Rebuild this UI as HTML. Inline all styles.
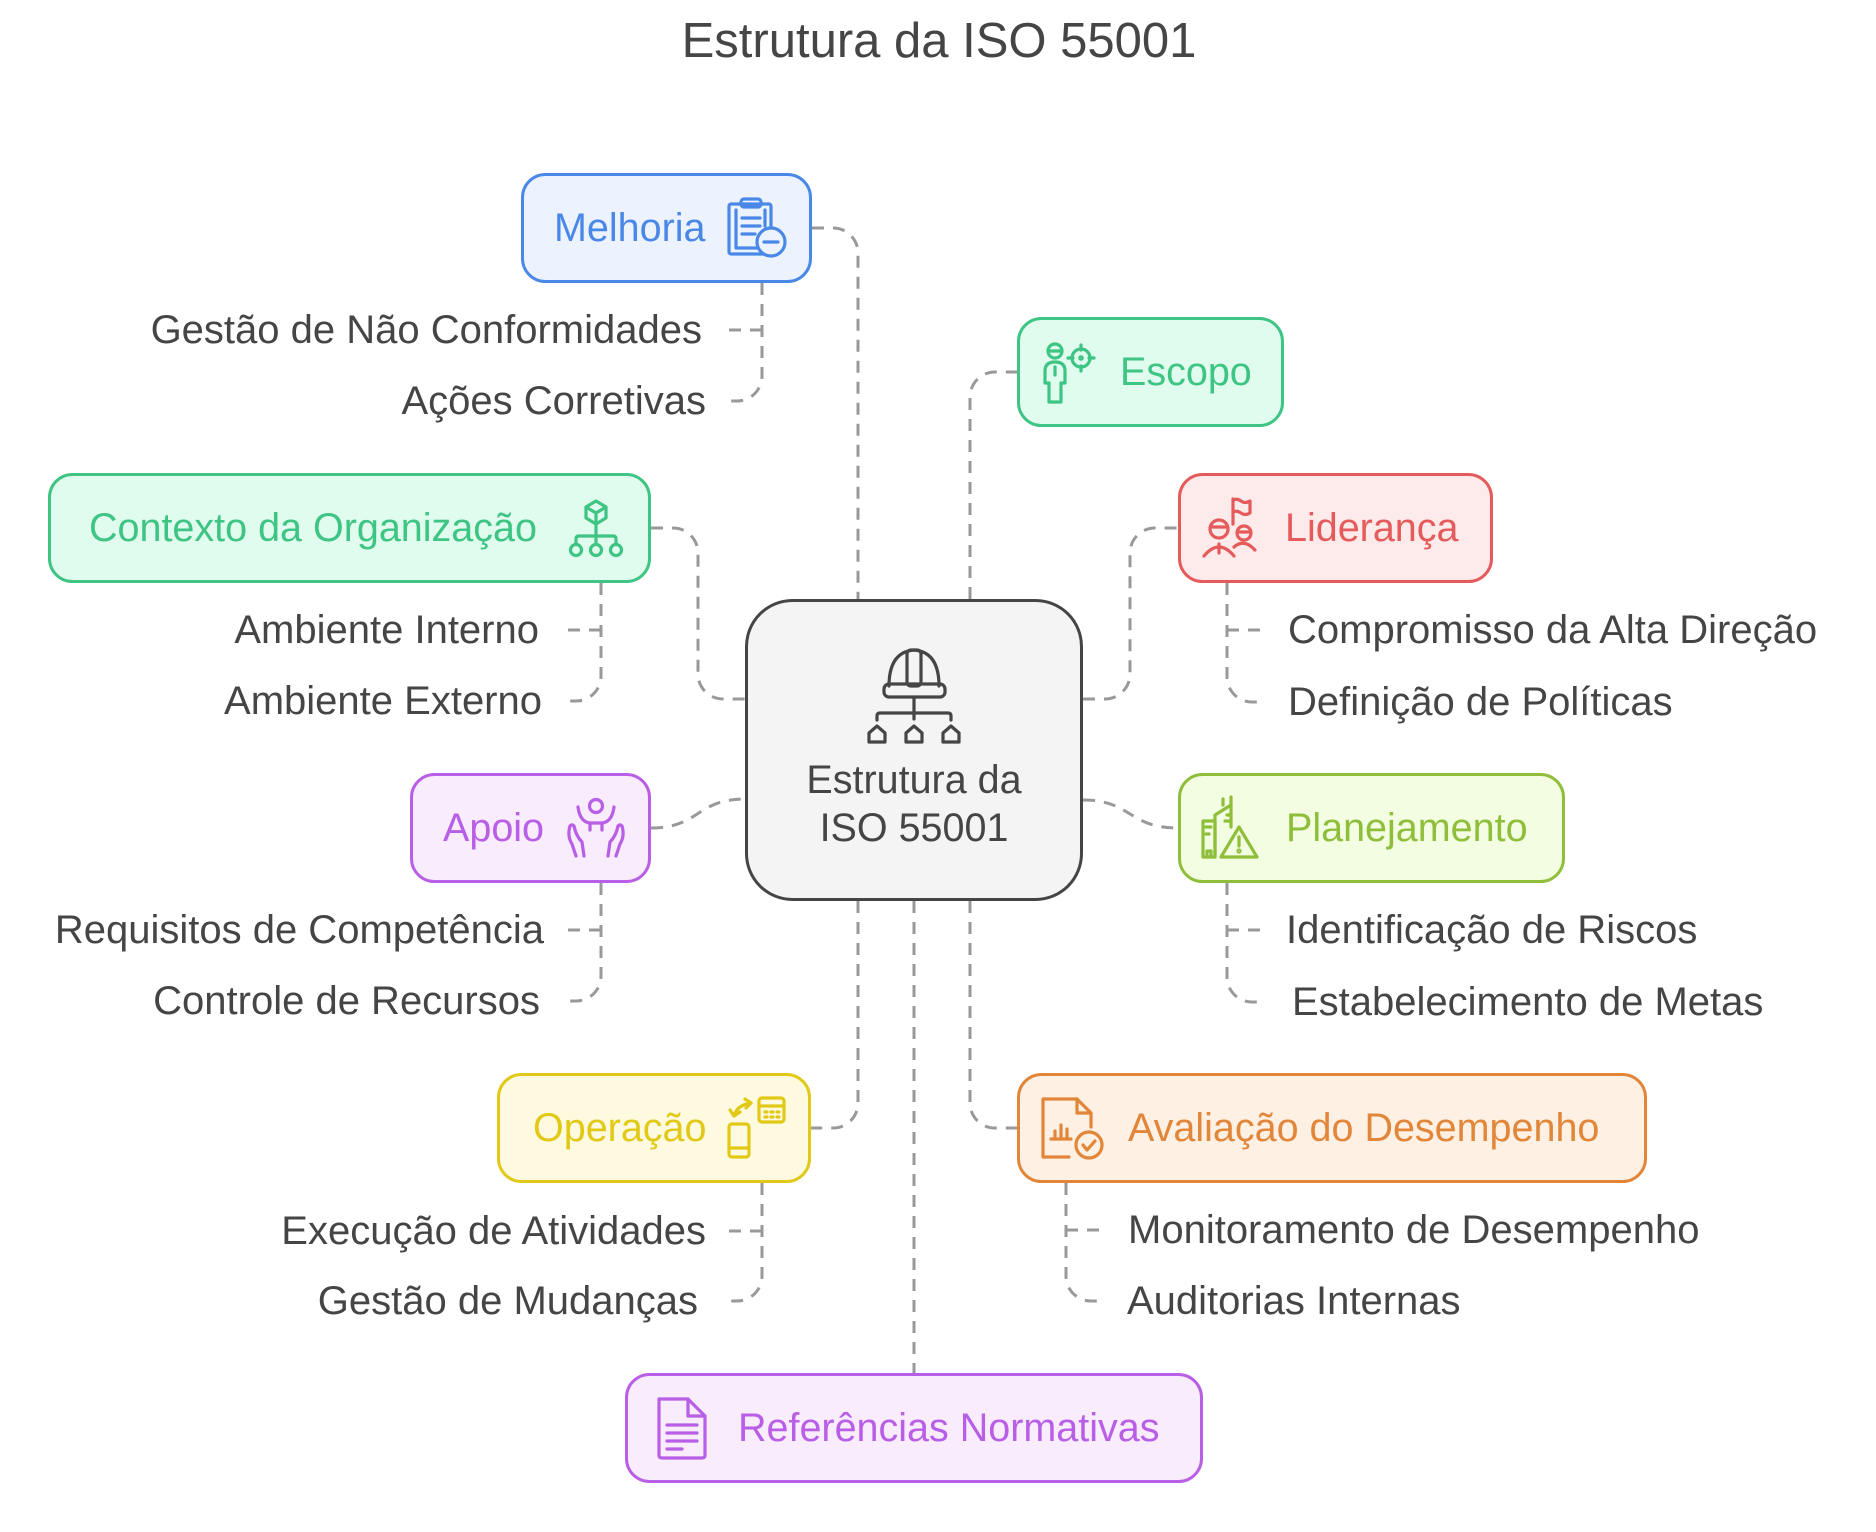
<!DOCTYPE html>
<html>
<head>
<meta charset="utf-8">
<style>
  html, body { margin:0; padding:0; background:#ffffff; }
  body { width:1876px; height:1532px; overflow:hidden; }
  svg { display:block; }
  text { font-family: "Liberation Sans", "DejaVu Sans", sans-serif; }
  .sub { font-size:40px; fill:#454545; }
  .lbl { font-size:39.5px; }
  .con { fill:none; stroke:#999999; stroke-width:3; stroke-dasharray:12 9; }
  .ic { fill:none; stroke-width:3.2; stroke-linecap:round; stroke-linejoin:round; }
</style>
</head>
<body>
<svg width="1876" height="1532" viewBox="0 0 1876 1532" xmlns="http://www.w3.org/2000/svg">
  <rect width="1876" height="1532" fill="#ffffff"/>

  <!-- Title -->
  <text x="939" y="57" text-anchor="middle" font-size="49" fill="#454545">Estrutura da ISO 55001</text>

  <!-- Main connectors -->
  <path class="con" d="M812,228 H833 A25,25 0 0 1 858,253 V599"/>
  <path class="con" d="M970,599 V397 A25,25 0 0 1 995,372 H1017"/>
  <path class="con" d="M651,528 H673 A25,25 0 0 1 698,553 V674 A25,25 0 0 0 723,699 H745"/>
  <path class="con" d="M651,828 C700,828 696,799 745,799"/>
  <path class="con" d="M1083,699 H1105 A25,25 0 0 0 1130,674 V553 A25,25 0 0 1 1155,528 H1178"/>
  <path class="con" d="M1083,800 C1132,800 1128,828 1178,828"/>
  <path class="con" d="M858,901 V1103 A25,25 0 0 1 833,1128 H811"/>
  <path class="con" d="M914,901 V1373"/>
  <path class="con" d="M970,901 V1103 A25,25 0 0 0 995,1128 H1017"/>

  <!-- Sub-branch connectors left -->
  <path class="con" d="M762,283 V376 A25,25 0 0 1 737,401 H725"/>
  <path class="con" d="M762,330 H727"/>
  <path class="con" d="M601,583 V676 A25,25 0 0 1 576,701 H564"/>
  <path class="con" d="M601,630 H566"/>
  <path class="con" d="M601,883 V976 A25,25 0 0 1 576,1001 H564"/>
  <path class="con" d="M601,930 H566"/>
  <path class="con" d="M762,1183 V1276 A25,25 0 0 1 737,1301 H725"/>
  <path class="con" d="M762,1231 H727"/>

  <!-- Sub-branch connectors right -->
  <path class="con" d="M1227,583 V677 A25,25 0 0 0 1252,702 H1264"/>
  <path class="con" d="M1227,630 H1263"/>
  <path class="con" d="M1227,883 V977 A25,25 0 0 0 1252,1002 H1264"/>
  <path class="con" d="M1227,930 H1263"/>
  <path class="con" d="M1066,1183 V1276 A25,25 0 0 0 1091,1301 H1103"/>
  <path class="con" d="M1066,1230 H1102"/>

  <!-- Sub labels left -->
  <text class="sub" x="702" y="343" text-anchor="end">Gestão de Não Conformidades</text>
  <text class="sub" x="706" y="414" text-anchor="end">Ações Corretivas</text>
  <text class="sub" x="539" y="643" text-anchor="end">Ambiente Interno</text>
  <text class="sub" x="542" y="714" text-anchor="end">Ambiente Externo</text>
  <text class="sub" x="544" y="943" text-anchor="end">Requisitos de Competência</text>
  <text class="sub" x="540" y="1014" text-anchor="end">Controle de Recursos</text>
  <text class="sub" x="706" y="1244" text-anchor="end">Execução de Atividades</text>
  <text class="sub" x="698" y="1314" text-anchor="end">Gestão de Mudanças</text>

  <!-- Sub labels right -->
  <text class="sub" x="1288" y="643">Compromisso da Alta Direção</text>
  <text class="sub" x="1288" y="715">Definição de Políticas</text>
  <text class="sub" x="1286" y="943">Identificação de Riscos</text>
  <text class="sub" x="1292" y="1015">Estabelecimento de Metas</text>
  <text class="sub" x="1128" y="1243">Monitoramento de Desempenho</text>
  <text class="sub" x="1127" y="1314">Auditorias Internas</text>

  <!-- Center node -->
  <rect x="746.5" y="600.5" width="335" height="299" rx="46" fill="#f4f4f4" stroke="#454545" stroke-width="3"/>
  <g class="ic" stroke="#454545">
    <path d="M889,686 Q889,652 914,650 Q939,652 939,686"/>
    <rect x="907" y="650" width="14" height="36" rx="4"/>
    <rect x="884" y="684" width="61" height="13" rx="5"/>
    <path d="M914,697 V719"/>
    <path d="M877,720 V716 Q877,713 880,713 H948 Q951,713 951,716 V720"/>
    <path d="M869,742 V733 L877,726 L885,733 V742 Z"/>
    <path d="M906,742 V733 L914,726 L922,733 V742 Z"/>
    <path d="M943,742 V733 L951,726 L959,733 V742 Z"/>
  </g>
  <text class="lbl" x="914" y="793" text-anchor="middle" fill="#454545">Estrutura da</text>
  <text class="lbl" x="914" y="841" text-anchor="middle" fill="#454545">ISO 55001</text>

  <!-- Melhoria -->
  <rect x="522.5" y="174.5" width="288" height="107" rx="23" fill="#ecf3fe" stroke="#4a88e8" stroke-width="3"/>
  <text class="lbl" x="554" y="241" fill="#4a88e8">Melhoria</text>
  <g class="ic" stroke="#4a88e8" transform="translate(727,198)">
    <rect x="2" y="6" width="42" height="50" rx="2"/>
    <path d="M9,12 V50 H30"/>
    <path d="M38,12 V28"/>
    <rect x="14" y="1" width="20" height="8" rx="3"/>
    <path d="M15,20 H33 M15,28 H33 M15,36 H28"/>
    <circle cx="44" cy="44" r="14" fill="#ecf3fe"/>
    <path d="M37,44 H51"/>
  </g>

  <!-- Escopo -->
  <rect x="1018.5" y="318.5" width="264" height="107" rx="23" fill="#e0fcee" stroke="#3ec483" stroke-width="3"/>
  <text class="lbl" x="1120" y="385" fill="#3ec483">Escopo</text>
  <g class="ic" stroke="#3ec483" transform="translate(1041,343)">
    <circle cx="14" cy="8" r="7"/>
    <path d="M8,8 H20"/>
    <path d="M4,40 V28 Q4,19 14,19 Q24,19 24,28 V40 H20 V59 H8 V40 Z"/>
    <path d="M14,24 V32"/>
    <circle cx="40" cy="15" r="9"/>
    <path d="M40,2 V7 M40,23 V28 M27,15 H32 M48,15 H53"/>
    <circle cx="40" cy="15" r="1.2"/>
  </g>

  <!-- Contexto da Organização -->
  <rect x="49.5" y="474.5" width="600" height="107" rx="23" fill="#e0fcee" stroke="#3ec483" stroke-width="3"/>
  <text class="lbl" x="89" y="541" fill="#3ec483">Contexto da Organização</text>
  <g class="ic" stroke="#3ec483" transform="translate(566,499)">
    <path d="M30,2 L40,8 V19 L30,25 L20,19 V8 Z"/>
    <path d="M20,8 L30,14 L40,8 M30,14 V25"/>
    <path d="M30,25 V36 M10,45 V40 Q10,37 13,37 H47 Q50,37 50,40 V45 M30,36 V45"/>
    <circle cx="10" cy="51" r="5.5"/>
    <circle cx="30" cy="51" r="5.5"/>
    <circle cx="50" cy="51" r="5.5"/>
  </g>

  <!-- Liderança -->
  <rect x="1179.5" y="474.5" width="312" height="107" rx="23" fill="#fdeaea" stroke="#e55b5b" stroke-width="3"/>
  <text class="lbl" x="1285" y="541" fill="#e55b5b">Liderança</text>
  <g class="ic" stroke="#e55b5b" transform="translate(1203,498)">
    <circle cx="16" cy="31" r="9"/>
    <path d="M8,29 H24"/>
    <path d="M1,58 Q16,40 31,58 M16,46 V55"/>
    <circle cx="41" cy="35" r="7"/>
    <path d="M35,34 H47"/>
    <path d="M31,49 Q41,40 52,52"/>
    <path d="M30,26 V1 M30,2 Q34,0 38,3 Q42,6 47,3 V15 Q42,18 38,15 Q34,12 30,14"/>
  </g>

  <!-- Apoio -->
  <rect x="411.5" y="774.5" width="238" height="107" rx="23" fill="#f8ecfd" stroke="#b95ee6" stroke-width="3"/>
  <text class="lbl" x="443" y="841" fill="#b95ee6">Apoio</text>
  <g class="ic" stroke="#b95ee6" transform="translate(566,798)">
    <circle cx="30" cy="8" r="6.5"/>
    <path d="M12,9 Q14,24 24,25 H36 Q46,24 48,9"/>
    <path d="M24,25 V32 M36,25 V32"/>
    <path d="M4,28 Q1,38 6,46 L10,58 M8,28 Q10,38 16,44 L18,58 M4,28 Q6,26 8,28"/>
    <path d="M56,28 Q59,38 54,46 L50,58 M52,28 Q50,38 44,44 L42,58 M56,28 Q54,26 52,28"/>
  </g>

  <!-- Planejamento -->
  <rect x="1179.5" y="774.5" width="384" height="107" rx="23" fill="#f2fde1" stroke="#8fbe3a" stroke-width="3"/>
  <text class="lbl" x="1286" y="841" fill="#8fbe3a">Planejamento</text>
  <g class="ic" stroke="#8fbe3a" transform="translate(1201,797)">
    <path d="M2,60 V24 H14 V60 Z"/>
    <path d="M5,30 H10 M5,37 H8"/>
    <path d="M6,60 V54 H10 V60"/>
    <path d="M14,60 V18 L30,8 V30"/>
    <path d="M22,8 V2 M30,8 V0"/>
    <path d="M24,24 H30 M26,18 H30"/>
    <path d="M20,60 L38,30 L56,60 Z"/>
    <path d="M38,40 V49"/>
    <circle cx="38" cy="54" r="1"/>
  </g>

  <!-- Operação -->
  <rect x="498.5" y="1074.5" width="311" height="107" rx="23" fill="#fefadf" stroke="#e2c917" stroke-width="3"/>
  <text class="lbl" x="533" y="1141" fill="#e2c917">Operação</text>
  <g class="ic" stroke="#e2c917" transform="translate(725,1097)">
    <rect x="4" y="27" width="20" height="33" rx="3"/>
    <path d="M4,51 H24"/>
    <path d="M9,19 Q12,8 26,6"/>
    <path d="M5,13 L9,19 L15,15"/>
    <path d="M20,2 L26,6 L21,11"/>
    <rect x="34" y="1" width="25" height="24" rx="3"/>
    <path d="M34,9 H59"/>
    <path d="M40,15 H42 M46,15 H48 M52,15 H54 M40,20 H42 M46,20 H48 M52,20 H54"/>
  </g>

  <!-- Avaliação do Desempenho -->
  <rect x="1018.5" y="1074.5" width="627" height="107" rx="23" fill="#fef0e3" stroke="#e2863a" stroke-width="3"/>
  <text class="lbl" x="1128" y="1141" fill="#e2863a">Avaliação do Desempenho</text>
  <g class="ic" stroke="#e2863a" transform="translate(1041,1097)">
    <path d="M28,60 H2 V2 H36 L50,16 V30"/>
    <path d="M36,2 V16 H50"/>
    <path d="M10,42 H30"/>
    <path d="M14,42 V34 M20,42 V28 M26,42 V32"/>
    <circle cx="48" cy="48" r="13" fill="#fef0e3"/>
    <path d="M42,48 L46,53 L54,44"/>
  </g>

  <!-- Referências Normativas -->
  <rect x="626.5" y="1374.5" width="575" height="107" rx="23" fill="#f8ecfd" stroke="#b95ee6" stroke-width="3"/>
  <text class="lbl" x="738" y="1441" fill="#b95ee6">Referências Normativas</text>
  <g class="ic" stroke="#b95ee6" transform="translate(655,1397)">
    <path d="M4,2 H33 L50,19 V58 Q50,61 47,61 H7 Q4,61 4,58 Z"/>
    <path d="M33,2 V19 H50"/>
    <path d="M12,28 H42 M12,36 H42 M12,44 H42 M12,52 H27"/>
  </g>
</svg>
</body>
</html>
